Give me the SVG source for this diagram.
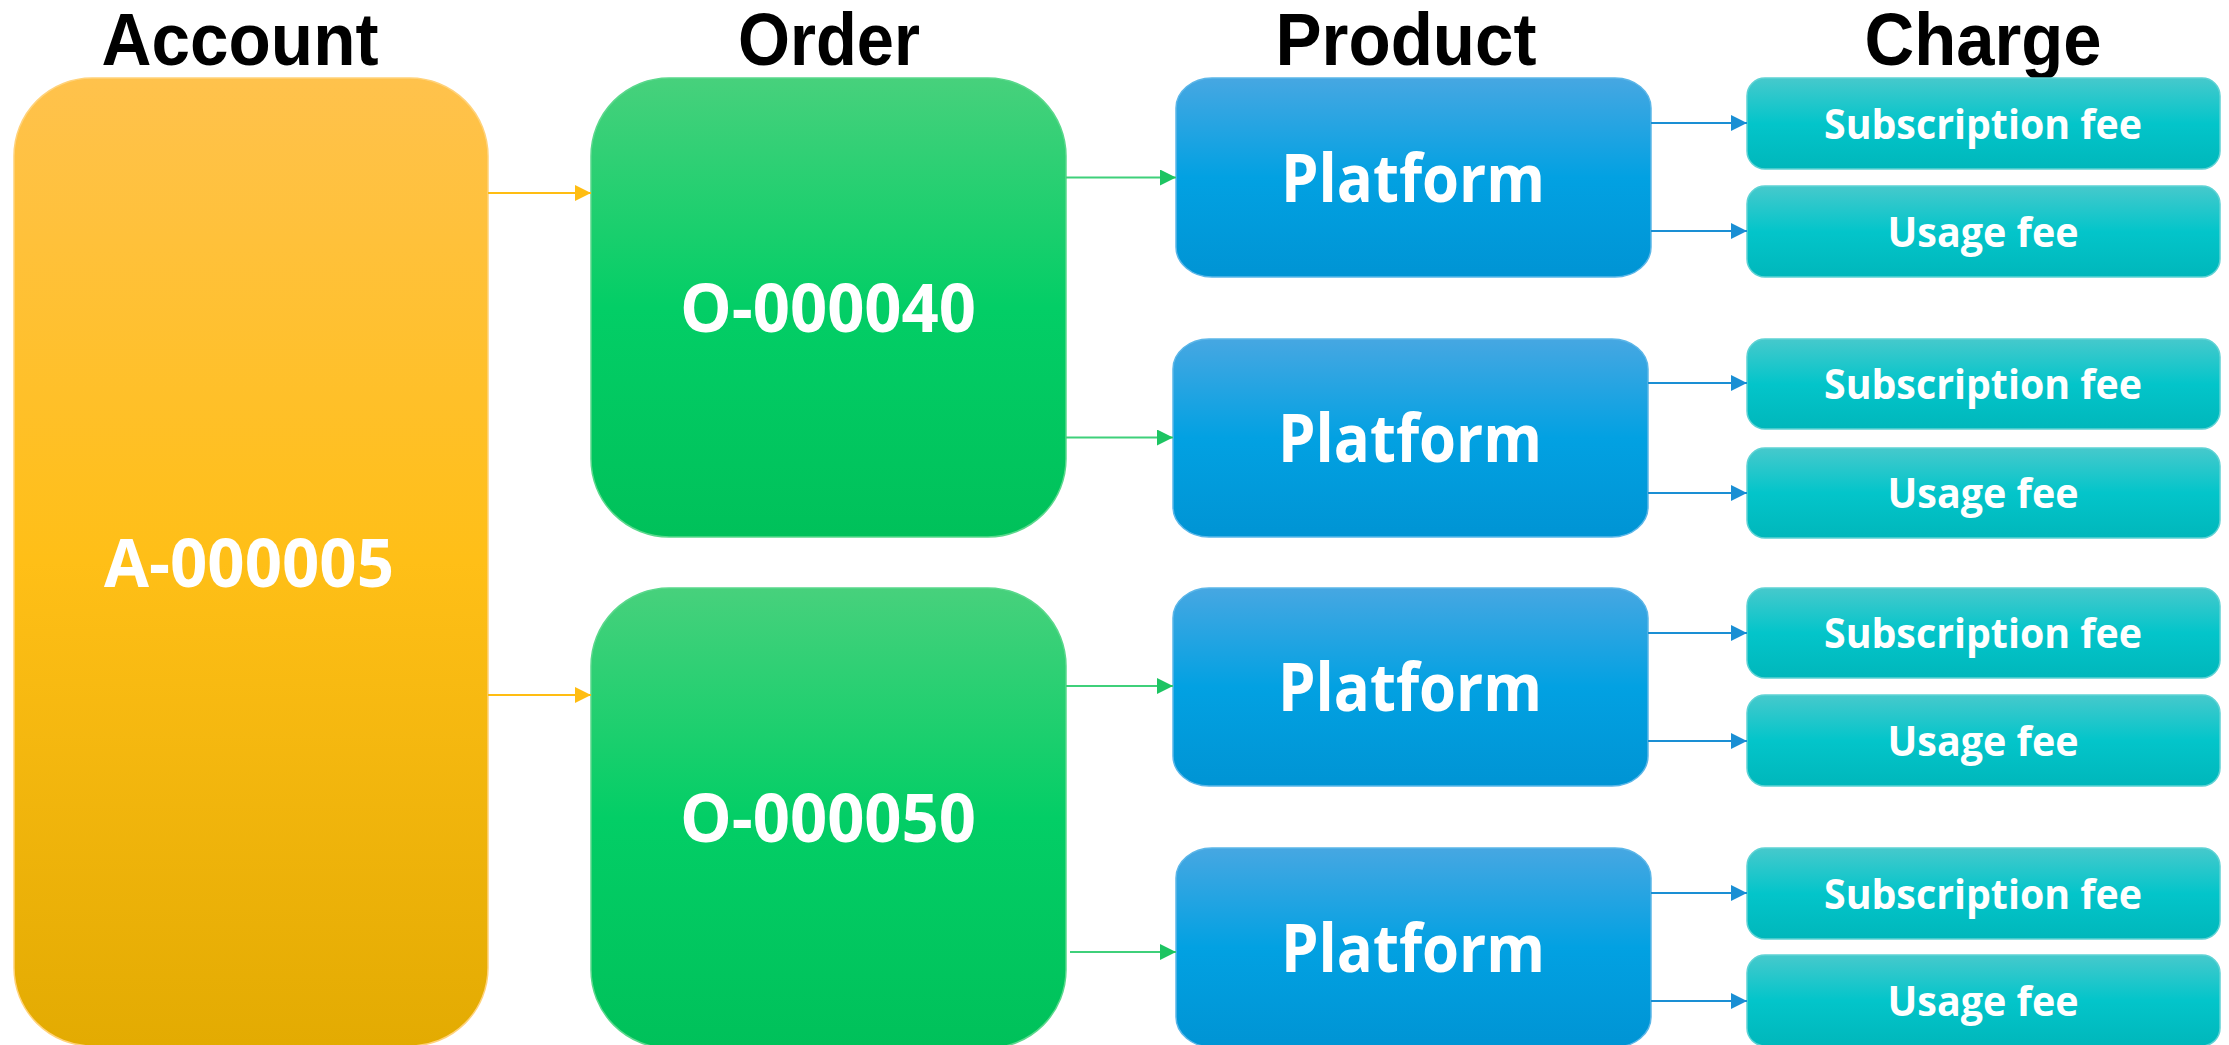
<svg xmlns="http://www.w3.org/2000/svg" width="2229" height="1045" viewBox="0 0 2229 1045">
<defs>
<linearGradient id="gA" x1="0" y1="0" x2="0" y2="1"><stop offset="0" stop-color="#FFC24C"/><stop offset="0.5" stop-color="#FFBF17"/><stop offset="1" stop-color="#E3AB02"/></linearGradient>
<linearGradient id="gO" x1="0" y1="0" x2="0" y2="1"><stop offset="0" stop-color="#47D17C"/><stop offset="0.5" stop-color="#03CE66"/><stop offset="1" stop-color="#00C15A"/></linearGradient>
<linearGradient id="gP" x1="0" y1="0" x2="0" y2="1"><stop offset="0" stop-color="#46A7E2"/><stop offset="0.5" stop-color="#02A1E2"/><stop offset="1" stop-color="#0094D4"/></linearGradient>
<linearGradient id="gC" x1="0" y1="0" x2="0" y2="1"><stop offset="0" stop-color="#46C9CC"/><stop offset="0.5" stop-color="#03C5CA"/><stop offset="1" stop-color="#00B7BB"/></linearGradient>
<marker id="mA" markerUnits="userSpaceOnUse" markerWidth="18" markerHeight="18" refX="16" refY="8" orient="auto"><path d="M0,0 L16,8 L0,16 Z" fill="#FFBD12"/></marker>
<marker id="mO" markerUnits="userSpaceOnUse" markerWidth="18" markerHeight="18" refX="16" refY="8" orient="auto"><path d="M0,0 L16,8 L0,16 Z" fill="#1DC462"/></marker>
<marker id="mP" markerUnits="userSpaceOnUse" markerWidth="18" markerHeight="18" refX="16" refY="8" orient="auto"><path d="M0,0 L16,8 L0,16 Z" fill="#1A8FD4"/></marker>
</defs>
<style>
.h{font-family:"Liberation Sans",Arial,sans-serif;font-weight:bold;font-size:75px;fill:#000;text-anchor:middle}
.t{font-family:"Open Sans","Noto Sans",sans-serif;font-weight:bold;fill:#fff;text-anchor:middle}
.big{font-size:66px}
.sm{font-size:42px}
.ea{stroke:#FFBD12;stroke-width:2;fill:none;marker-end:url(#mA)}
.eo{stroke:#3FD07A;stroke-width:2;fill:none;marker-end:url(#mO)}
.ep{stroke:#1A8FD4;stroke-width:2;fill:none;marker-end:url(#mP)}
</style>
<rect width="2229" height="1045" fill="#fff"/>
<g id="headers">
<text class="h" x="240" y="65" textLength="277" lengthAdjust="spacingAndGlyphs">Account</text>
<text class="h" x="829" y="65" textLength="182" lengthAdjust="spacingAndGlyphs">Order</text>
<text class="h" x="1406" y="65" textLength="261" lengthAdjust="spacingAndGlyphs">Product</text>
<text class="h" x="1983" y="65" textLength="237" lengthAdjust="spacingAndGlyphs">Charge</text>
</g>
<g id="account">
<rect x="14" y="78" width="474" height="968" rx="78" ry="78" fill="url(#gA)" stroke="#FFD27A" stroke-width="1.5"/>
<text class="t big" x="249" y="587" textLength="290" lengthAdjust="spacingAndGlyphs">A-000005</text>
</g>
<g id="order1">
<rect x="591" y="78" width="475" height="459" rx="78" ry="78" fill="url(#gO)" stroke="#5AD88C" stroke-width="1.5"/>
<text class="t big" x="828" y="332" textLength="296" lengthAdjust="spacingAndGlyphs">O-000040</text>
</g>
<g id="order2">
<rect x="591" y="588" width="475" height="460" rx="78" ry="78" fill="url(#gO)" stroke="#5AD88C" stroke-width="1.5"/>
<text class="t big" x="828" y="842" textLength="296" lengthAdjust="spacingAndGlyphs">O-000050</text>
</g>
<g id="product1">
<rect x="1176" y="78" width="475" height="199" rx="36" ry="30" fill="url(#gP)" stroke="#5BB6E8" stroke-width="1.5"/>
<text class="t big" x="1413" y="202" textLength="264" lengthAdjust="spacingAndGlyphs">Platform</text>
</g>
<g id="product2">
<rect x="1173" y="339" width="475" height="198" rx="36" ry="30" fill="url(#gP)" stroke="#5BB6E8" stroke-width="1.5"/>
<text class="t big" x="1410" y="462" textLength="264" lengthAdjust="spacingAndGlyphs">Platform</text>
</g>
<g id="product3">
<rect x="1173" y="588" width="475" height="198" rx="36" ry="30" fill="url(#gP)" stroke="#5BB6E8" stroke-width="1.5"/>
<text class="t big" x="1410" y="711" textLength="264" lengthAdjust="spacingAndGlyphs">Platform</text>
</g>
<g id="product4">
<rect x="1176" y="848" width="475" height="199" rx="36" ry="30" fill="url(#gP)" stroke="#5BB6E8" stroke-width="1.5"/>
<text class="t big" x="1413" y="972" textLength="264" lengthAdjust="spacingAndGlyphs">Platform</text>
</g>
<g id="charge1a"><rect x="1747" y="78" width="473" height="91" rx="18" fill="url(#gC)" stroke="#5DD2D4" stroke-width="1.5"/><text class="t sm" x="1983" y="139" textLength="318" lengthAdjust="spacingAndGlyphs">Subscription fee</text></g>
<g id="charge1b"><rect x="1747" y="186" width="473" height="91" rx="18" fill="url(#gC)" stroke="#5DD2D4" stroke-width="1.5"/><text class="t sm" x="1983" y="247" textLength="191" lengthAdjust="spacingAndGlyphs">Usage fee</text></g>
<g id="charge2a"><rect x="1747" y="339" width="473" height="90" rx="18" fill="url(#gC)" stroke="#5DD2D4" stroke-width="1.5"/><text class="t sm" x="1983" y="399" textLength="318" lengthAdjust="spacingAndGlyphs">Subscription fee</text></g>
<g id="charge2b"><rect x="1747" y="448" width="473" height="90" rx="18" fill="url(#gC)" stroke="#5DD2D4" stroke-width="1.5"/><text class="t sm" x="1983" y="508" textLength="191" lengthAdjust="spacingAndGlyphs">Usage fee</text></g>
<g id="charge3a"><rect x="1747" y="588" width="473" height="90" rx="18" fill="url(#gC)" stroke="#5DD2D4" stroke-width="1.5"/><text class="t sm" x="1983" y="648" textLength="318" lengthAdjust="spacingAndGlyphs">Subscription fee</text></g>
<g id="charge3b"><rect x="1747" y="695" width="473" height="91" rx="18" fill="url(#gC)" stroke="#5DD2D4" stroke-width="1.5"/><text class="t sm" x="1983" y="756" textLength="191" lengthAdjust="spacingAndGlyphs">Usage fee</text></g>
<g id="charge4a"><rect x="1747" y="848" width="473" height="91" rx="18" fill="url(#gC)" stroke="#5DD2D4" stroke-width="1.5"/><text class="t sm" x="1983" y="909" textLength="318" lengthAdjust="spacingAndGlyphs">Subscription fee</text></g>
<g id="charge4b"><rect x="1747" y="955" width="473" height="91" rx="18" fill="url(#gC)" stroke="#5DD2D4" stroke-width="1.5"/><text class="t sm" x="1983" y="1016" textLength="191" lengthAdjust="spacingAndGlyphs">Usage fee</text></g>
<g id="connectors">
<line class="ea" x1="488" y1="193" x2="591" y2="193"/>
<line class="ea" x1="488" y1="695" x2="591" y2="695"/>
<line class="eo" x1="1066" y1="177.5" x2="1176" y2="177.5"/>
<line class="eo" x1="1066" y1="437.5" x2="1173" y2="437.5"/>
<line class="eo" x1="1066" y1="686" x2="1173" y2="686"/>
<line class="eo" x1="1070" y1="952" x2="1176" y2="952"/>
<line class="ep" x1="1651" y1="123" x2="1747" y2="123"/>
<line class="ep" x1="1651" y1="231" x2="1747" y2="231"/>
<line class="ep" x1="1648" y1="383" x2="1747" y2="383"/>
<line class="ep" x1="1648" y1="493" x2="1747" y2="493"/>
<line class="ep" x1="1648" y1="633" x2="1747" y2="633"/>
<line class="ep" x1="1648" y1="741" x2="1747" y2="741"/>
<line class="ep" x1="1651" y1="893" x2="1747" y2="893"/>
<line class="ep" x1="1651" y1="1001" x2="1747" y2="1001"/>
</g>
</svg>
